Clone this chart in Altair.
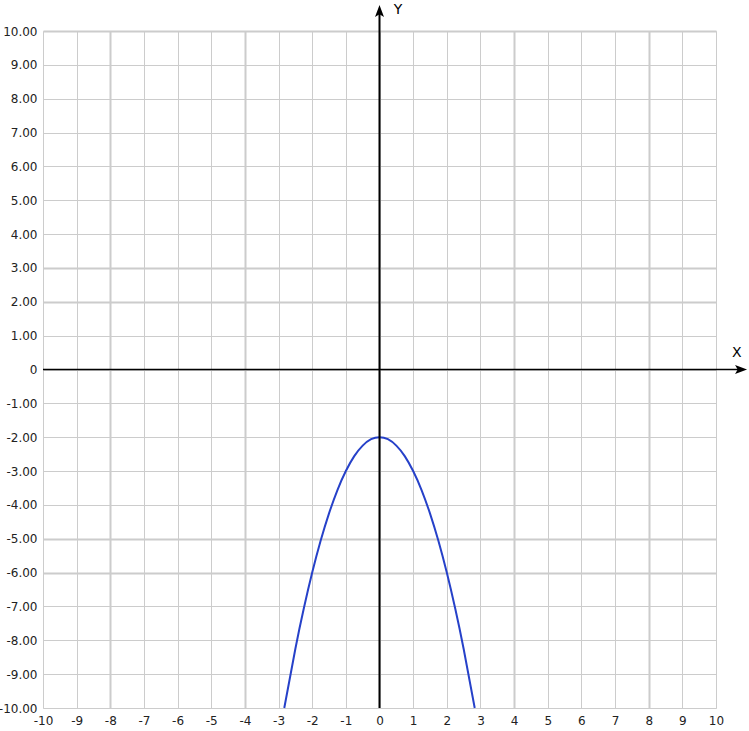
import altair as alt
import pandas as pd

# Curve samples (x, y) of the downward parabola with vertex at (0, -2)
curve_x = [-2.83, -2.5, -2.25, -2.0, -1.75, -1.5, -1.25, -1.0, -0.75, -0.5, -0.25, 0.0,
           0.25, 0.5, 0.75, 1.0, 1.25, 1.5, 1.75, 2.0, 2.25, 2.5, 2.83]
curve_y = [-10.0, -8.25, -7.06, -6.0, -5.06, -4.25, -3.56, -3.0, -2.56, -2.25, -2.06, -2.0,
           -2.06, -2.25, -2.56, -3.0, -3.56, -4.25, -5.06, -6.0, -7.06, -8.25, -10.0]

# Axis ticks
x_ticks = list(range(-10, 11))
y_ticks = list(range(-10, 11))

# Coordinate-axis arrows and their names
axis_names = ["X", "Y"]
axis_name_x = [10.62, 0.55]
axis_name_y = [0.50, 10.62]
arrow_x = [10.70, 0.0]
arrow_y = [0.0, 10.55]
arrow_angle = [90, 0]
x_axis_end = 10.72
y_axis_end = 10.6

curve = pd.DataFrame({"x": curve_x, "y": curve_y})

X = alt.Scale(domain=[-10, 10], nice=False, zero=False)
Y = alt.Scale(domain=[-10, 10], nice=False, zero=False)

x_axis = alt.Axis(
    values=x_ticks, title=None, domain=False, ticks=False,
    labelExpr="(datum.value < 0 ? '-' : '') + format(abs(datum.value), 'd')",
    labelFont="DejaVu Sans", labelFontSize=12, labelColor="#222", labelPadding=7,
    labelOverlap=False, labelFlush=False,
    grid=True, gridColor="#cccccc",
    gridWidth=alt.ConditionalAxisNumber(
        condition={"test": "datum.value % 4 == 0 && datum.value != 0", "value": 2}, value=1),
)
y_axis = alt.Axis(
    values=y_ticks, title=None, domain=False, ticks=False,
    labelExpr="datum.value == 0 ? '0' : (datum.value < 0 ? '-' : '') + format(abs(datum.value), '.2f')",
    labelFont="DejaVu Sans", labelFontSize=12, labelColor="#222", labelPadding=6,
    labelOverlap=False, labelFlush=False,
    grid=True, gridColor="#cccccc",
    gridWidth=alt.ConditionalAxisNumber(
        condition={"test": "indexof([10, 3, 2, -5, -6], datum.value) >= 0", "value": 2}, value=1),
)


def xe(field):
    return alt.X(field, type="quantitative", scale=X, axis=x_axis)


def ye(field):
    return alt.Y(field, type="quantitative", scale=Y, axis=y_axis)


line = alt.Chart(curve).mark_line(color="#2641c9", strokeWidth=2, interpolate="natural").encode(
    x=xe("x"), y=ye("y"), order="x:Q",
)

h_axis = alt.Chart(pd.DataFrame({"x": [-10.0], "x2": [x_axis_end], "y": [0.0]})).mark_rule(
    color="black", strokeWidth=1.5).encode(x=xe("x"), x2="x2:Q", y=ye("y"))

v_axis = alt.Chart(pd.DataFrame({"y": [-10.0], "y2": [y_axis_end], "x": [0.0]})).mark_rule(
    color="black", strokeWidth=2).encode(y=ye("y"), y2="y2:Q", x=xe("x"))

arrows = alt.Chart(pd.DataFrame({"x": arrow_x, "y": arrow_y, "a": arrow_angle})).mark_point(
    shape="M0,-1 L0.6,0.6 L0,0.25 L-0.6,0.6 Z", filled=True, color="black", opacity=1,
    size=225, strokeWidth=0).encode(
    x=xe("x"), y=ye("y"), angle=alt.Angle("a:Q", scale=None))

names = alt.Chart(pd.DataFrame({"x": axis_name_x, "y": axis_name_y, "t": axis_names})).mark_text(
    font="DejaVu Sans", fontSize=14, color="black").encode(
    x=xe("x"), y=ye("y"), text="t:N")

chart = alt.layer(line, h_axis, v_axis, arrows, names).properties(
    width=673, height=677,
    autosize=alt.AutoSizeParams(type="none"),
    padding={"left": 43, "top": 31, "right": 33, "bottom": 23},
).configure_view(stroke=None).configure(background="white")

chart.save("out.html", embed_options={"renderer": "svg", "actions": False})
